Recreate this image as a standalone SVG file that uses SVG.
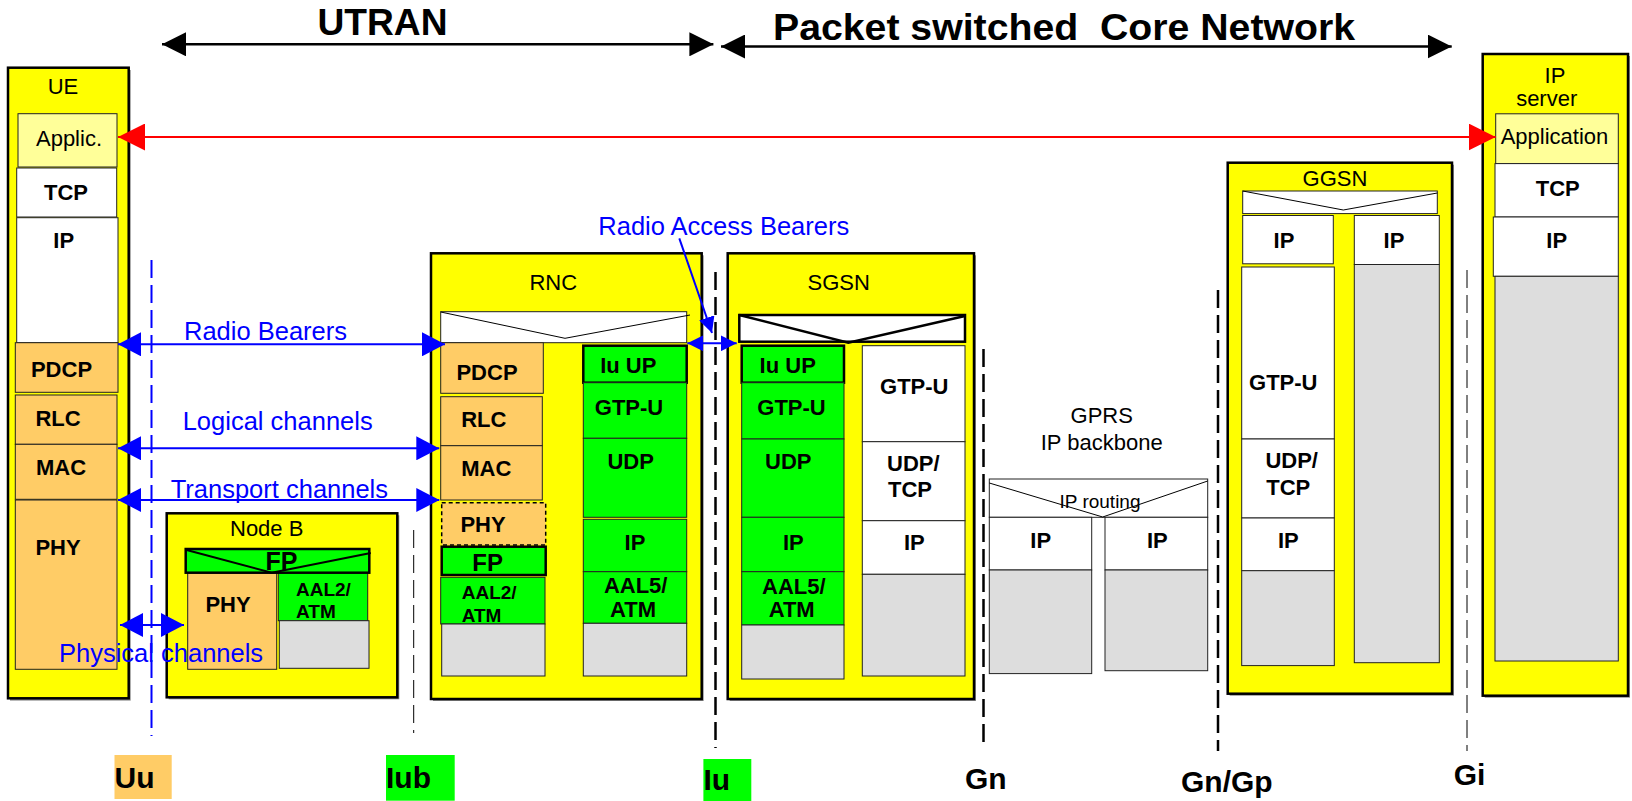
<svg xmlns="http://www.w3.org/2000/svg" width="1632" height="801" viewBox="0 0 1632 801">
<style>
  text { font-family: "Liberation Sans", Arial, sans-serif; fill: #000; }
  .node { fill: #FFFF00; stroke: #000; stroke-width: 2.5; }
  .shadow { fill: #8c8c8c; }
  .org { fill: #FFCC66; stroke: #222; stroke-width: 1; }
  .grn { fill: #00FF00; stroke: #222; stroke-width: 1; }
  .grnb { fill: #00FF00; stroke: #000; stroke-width: 2.5; }
  .wht { fill: #FFFFFF; stroke: #222; stroke-width: 1; }
  .whtb { fill: #FFFFFF; stroke: #000; stroke-width: 2.5; }
  .gry { fill: #DDDDDD; stroke: #222; stroke-width: 1; }
  .app { fill: #FFFF99; stroke: #222; stroke-width: 1; }
  .t { font-size: 22px; text-anchor: middle; }
  .b { font-size: 22px; font-weight: bold; text-anchor: middle; }
  .fp { font-size: 25px; font-weight: bold; text-anchor: middle; }
  .s { font-size: 19px; font-weight: bold; }
  .blue { font-size: 25.5px; fill: #0000FF; }
  .lbl { font-size: 30px; font-weight: bold; }
  .head { font-size: 36px; font-weight: bold; }
  .vee { fill: none; stroke: #000; stroke-width: 1; }
  .veeb { fill: none; stroke: #000; stroke-width: 2.5; }
  .dash { fill: none; stroke: #000; stroke-dasharray: 18 7; }
  .bl { stroke: #0000FF; stroke-width: 2; fill: none; }
</style>
<defs>
  <marker id="hBlue" markerUnits="userSpaceOnUse" viewBox="0 0 23 24" markerWidth="23" markerHeight="24" refX="23" refY="12" orient="auto-start-reverse">
    <path d="M0,0 L23,12 L0,24 z" fill="#0000FF"/>
  </marker>
  <marker id="hBlueS" markerUnits="userSpaceOnUse" viewBox="0 0 16 16" markerWidth="16" markerHeight="16" refX="16" refY="8" orient="auto-start-reverse">
    <path d="M0,0 L16,8 L0,16 z" fill="#0000FF"/>
  </marker>
  <marker id="hRed" markerUnits="userSpaceOnUse" viewBox="0 0 27 27" markerWidth="27" markerHeight="27" refX="27" refY="13.5" orient="auto-start-reverse">
    <path d="M0,0 L27,13.5 L0,27 z" fill="#FF0000"/>
  </marker>
  <marker id="hBlack" markerUnits="userSpaceOnUse" viewBox="0 0 24 24" markerWidth="24" markerHeight="24" refX="24" refY="12" orient="auto-start-reverse">
    <path d="M0,0 L24,12 L0,24 z" fill="#000"/>
  </marker>
</defs>

<rect width="1632" height="801" fill="#FFFFFF"/>

<!-- domain headings -->
<g id="headings">
  <text class="head" x="317.5" y="35" textLength="130" lengthAdjust="spacingAndGlyphs">UTRAN</text>
  <text class="head" x="773" y="40" textLength="582" lengthAdjust="spacingAndGlyphs" xml:space="preserve">Packet switched  Core Network</text>
</g>

<!-- UE -->
<g id="ue">
  <rect class="shadow" x="10" y="70" width="120.7" height="630.6"/>
  <rect class="node" x="8" y="67.7" width="120.7" height="630.6"/>
  <text class="t" x="63" y="94">UE</text>
  <rect class="app" x="18" y="113.7" width="99" height="53.3"/>
  <text class="t" x="69" y="146">Applic.</text>
  <rect class="wht" x="16.7" y="168" width="100" height="49"/>
  <text class="b" x="66" y="200">TCP</text>
  <rect class="wht" x="16.7" y="217.7" width="101.3" height="125"/>
  <text class="b" x="63.7" y="248">IP</text>
  <rect class="org" x="15.3" y="342.7" width="102.7" height="49.6"/>
  <text class="b" x="61.5" y="377.3">PDCP</text>
  <rect class="org" x="15.3" y="395" width="101.7" height="49.3"/>
  <text class="b" x="58" y="426">RLC</text>
  <rect class="org" x="15.3" y="444.3" width="101.7" height="55"/>
  <text class="b" x="61" y="475">MAC</text>
  <rect class="org" x="15.3" y="500" width="101.7" height="169.3"/>
  <text class="b" x="58" y="555">PHY</text>
</g>

<!-- Node B -->
<g id="node-b">
  <rect class="shadow" x="168.7" y="515.3" width="230.6" height="184"/>
  <rect class="node" x="166.7" y="513.3" width="230.6" height="184"/>
  <text class="t" x="266.7" y="535.7">Node B</text>
  <rect class="org" x="187.7" y="572.7" width="89" height="96.6"/>
  <text class="b" x="228" y="611.7">PHY</text>
  <rect class="grn" x="278.3" y="572.7" width="89.4" height="48"/>
  <text class="s" x="296" y="596">AAL2/</text>
  <text class="s" x="296" y="618.3">ATM</text>
  <rect class="gry" x="279.3" y="620.7" width="89.7" height="47.6"/>
  <rect class="grnb" x="185.7" y="549" width="183.6" height="23.7"/>
  <polyline class="veeb" style="stroke-width:2" points="185.7,549.7 271.7,572.7 370.7,553"/>
  <text class="fp" x="281.5" y="570">FP</text>
</g>

<!-- RNC -->
<g id="rnc">
  <rect class="shadow" x="433" y="255.3" width="270.7" height="445.7"/>
  <rect class="node" x="431" y="253.3" width="270.7" height="445.7"/>
  <text class="t" x="553.3" y="290">RNC</text>
  <rect class="wht" x="440.7" y="311.7" width="246" height="31"/>
  <polyline class="vee" points="440.7,312 565,338.3 690,315"/>
  <rect class="org" x="440.7" y="342.7" width="102.6" height="50.6"/>
  <text class="b" x="487" y="380">PDCP</text>
  <rect class="org" x="440.7" y="396.7" width="101.6" height="49"/>
  <text class="b" x="483.8" y="427.3">RLC</text>
  <rect class="org" x="440.7" y="445.7" width="101.6" height="54.3"/>
  <text class="b" x="486.3" y="476">MAC</text>
  <rect class="org" x="441.7" y="502.7" width="104" height="42.3" style="stroke:#000;stroke-width:1.5;stroke-dasharray:4 3"/>
  <text class="b" x="483" y="531.7">PHY</text>
  <rect class="grnb" x="441.7" y="546.7" width="104" height="28.3"/>
  <text class="fp" style="font-size:24px" x="487.7" y="571">FP</text>
  <rect class="grn" x="440.7" y="577.3" width="104.3" height="46.7"/>
  <text class="s" x="461.7" y="599">AAL2/</text>
  <text class="s" x="461.7" y="621.7">ATM</text>
  <rect class="gry" x="441.7" y="624" width="103.3" height="52"/>
  <rect class="grnb" x="583.3" y="345.7" width="103.4" height="37"/>
  <text class="b" x="628.3" y="373.3">Iu UP</text>
  <rect class="grn" x="583.3" y="382.7" width="103.4" height="55.6"/>
  <text class="b" x="629" y="415">GTP-U</text>
  <rect class="grn" x="583.3" y="438.3" width="103.4" height="79"/>
  <text class="b" x="630.7" y="469.3">UDP</text>
  <rect class="grn" x="583.3" y="519.3" width="103.4" height="52.4"/>
  <text class="b" x="635" y="550">IP</text>
  <rect class="grn" x="583.3" y="571.7" width="103.4" height="51.6"/>
  <text class="b" x="635.7" y="593.3">AAL5/</text>
  <text class="b" x="633" y="617.3">ATM</text>
  <rect class="gry" x="583.3" y="623.3" width="103.4" height="52.7"/>
</g>

<!-- SGSN -->
<g id="sgsn">
  <rect class="shadow" x="729.7" y="255.3" width="246.3" height="445.7"/>
  <rect class="node" x="727.7" y="253.3" width="246.3" height="445.7"/>
  <text class="t" x="838.7" y="290">SGSN</text>
  <rect class="whtb" x="739.3" y="315" width="225.7" height="26.7"/>
  <polyline class="veeb" points="739.3,315 848.3,342.7 965,316"/>
  <rect class="grnb" x="741.7" y="345.7" width="102.3" height="37"/>
  <text class="b" x="787.7" y="373">Iu UP</text>
  <rect class="grn" x="741.7" y="382.7" width="102.3" height="56.3"/>
  <text class="b" x="791.5" y="415">GTP-U</text>
  <rect class="grn" x="741.7" y="439" width="102.3" height="78.3"/>
  <text class="b" x="788.3" y="469.3">UDP</text>
  <rect class="grn" x="741.7" y="517.3" width="102.3" height="54.4"/>
  <text class="b" x="793.3" y="550">IP</text>
  <rect class="grn" x="741.7" y="571.7" width="102.3" height="53.3"/>
  <text class="b" x="793.8" y="594">AAL5/</text>
  <text class="b" x="791.7" y="617.3">ATM</text>
  <rect class="gry" x="741.7" y="625" width="102.3" height="54"/>
  <rect class="wht" x="862.3" y="345.7" width="102.7" height="96"/>
  <text class="b" x="914.3" y="394">GTP-U</text>
  <rect class="wht" x="862.3" y="441.7" width="102.7" height="79"/>
  <text class="b" x="913.3" y="470.7">UDP/</text>
  <text class="b" x="910" y="496.7">TCP</text>
  <rect class="wht" x="862.3" y="520.7" width="102.7" height="53.6"/>
  <text class="b" x="914.3" y="550">IP</text>
  <rect class="gry" x="862.3" y="574.3" width="102.7" height="101.7"/>
</g>

<!-- GPRS IP backbone -->
<g id="gprs-backbone">
  <text class="t" x="1101.7" y="422.7">GPRS</text>
  <text class="t" x="1101.7" y="450">IP backbone</text>
  <rect class="wht" x="989.3" y="479" width="218.4" height="38.3"/>
  <polyline class="vee" points="989.3,483 1102.7,517 1207.7,481"/>
  <text class="t" style="font-size:19px" x="1100" y="508">IP routing</text>
  <rect class="wht" x="989.3" y="517.3" width="102.4" height="52.7"/>
  <text class="b" x="1040.7" y="548.2">IP</text>
  <rect class="gry" x="989.3" y="570" width="102.4" height="103.6"/>
  <rect class="wht" x="1105" y="517.3" width="102.7" height="52.7"/>
  <text class="b" x="1157.3" y="548.2">IP</text>
  <rect class="gry" x="1105" y="570" width="102.7" height="100.7"/>
</g>

<!-- GGSN -->
<g id="ggsn">
  <rect class="shadow" x="1229.7" y="164.7" width="224.3" height="531"/>
  <rect class="node" x="1227.7" y="162.7" width="224.3" height="531"/>
  <text class="t" x="1335" y="186.4">GGSN</text>
  <rect class="wht" x="1242.7" y="191" width="194.6" height="22.6"/>
  <polyline class="vee" points="1242.7,191 1343.3,210 1437.3,193"/>
  <rect class="wht" x="1242.7" y="215.5" width="90.6" height="48.3"/>
  <text class="b" x="1284" y="247.5">IP</text>
  <rect class="wht" x="1354.3" y="215.5" width="85" height="49"/>
  <text class="b" x="1394" y="247.5">IP</text>
  <rect class="gry" x="1354.3" y="264.5" width="85" height="398.2"/>
  <rect class="wht" x="1241.7" y="267" width="92.6" height="172"/>
  <text class="b" x="1283.3" y="390">GTP-U</text>
  <rect class="wht" x="1241.7" y="439" width="92.6" height="79"/>
  <text class="b" x="1291.7" y="468">UDP/</text>
  <text class="b" x="1288.3" y="494.7">TCP</text>
  <rect class="wht" x="1241.7" y="518" width="92.6" height="52.7"/>
  <text class="b" x="1288.3" y="548.2">IP</text>
  <rect class="gry" x="1241.7" y="570.7" width="92.6" height="94.9"/>
</g>

<!-- IP server -->
<g id="ip-server">
  <rect class="shadow" x="1484.7" y="56" width="145.3" height="641.7"/>
  <rect class="node" x="1482.7" y="54" width="145.3" height="641.7"/>
  <text class="t" x="1555" y="83.4">IP</text>
  <text class="t" x="1546.7" y="106">server</text>
  <rect class="app" x="1495.7" y="113.8" width="122.6" height="49.8"/>
  <text class="t" x="1554.5" y="144">Application</text>
  <rect class="wht" x="1495" y="163.6" width="123.3" height="53.4"/>
  <text class="b" x="1557.7" y="196">TCP</text>
  <rect class="wht" x="1493.3" y="217" width="125" height="59.3"/>
  <text class="b" x="1556.7" y="248">IP</text>
  <rect class="gry" x="1495" y="276.3" width="123.3" height="384.7"/>
</g>

<!-- connectors: reference points, bearers and spans -->
<g id="connectors">
  <line x1="151.5" y1="260" x2="151.5" y2="736" stroke="#0000FF" stroke-width="2" stroke-dasharray="18 7"/>
  <line class="dash" x1="413.7" y1="530" x2="413.7" y2="733" stroke-width="1"/>
  <line class="dash" x1="715.5" y1="272" x2="715.5" y2="748" stroke-width="2.5"/>
  <line class="dash" x1="983.5" y1="349" x2="983.5" y2="746" stroke-width="2.5"/>
  <line class="dash" x1="1218" y1="290" x2="1218" y2="751" stroke-width="2.5"/>
  <line class="dash" x1="1467" y1="270" x2="1467" y2="751" stroke-width="1"/>

  <line x1="162" y1="44.3" x2="713.4" y2="44.3" stroke="#000" stroke-width="2.5" marker-start="url(#hBlack)" marker-end="url(#hBlack)"/>
  <line x1="721" y1="46.5" x2="1451.7" y2="46.5" stroke="#000" stroke-width="2.5" marker-start="url(#hBlack)" marker-end="url(#hBlack)"/>

  <line x1="118" y1="137" x2="1495.7" y2="137" stroke="#FF0000" stroke-width="2" marker-start="url(#hRed)" marker-end="url(#hRed)"/>

  <line class="bl" x1="118" y1="344.3" x2="445" y2="344.3" marker-start="url(#hBlue)" marker-end="url(#hBlue)"/>
  <line class="bl" x1="118" y1="448.3" x2="439.3" y2="448.3" marker-start="url(#hBlue)" marker-end="url(#hBlue)"/>
  <line class="bl" x1="118" y1="500" x2="439.3" y2="500" marker-start="url(#hBlue)" marker-end="url(#hBlue)"/>
  <line class="bl" x1="120" y1="625" x2="184" y2="625" marker-start="url(#hBlue)" marker-end="url(#hBlue)"/>
  <line class="bl" x1="687.3" y1="343.3" x2="736.7" y2="343.3" marker-start="url(#hBlueS)" marker-end="url(#hBlueS)"/>
  <line class="bl" x1="679.3" y1="238.3" x2="712" y2="333" marker-end="url(#hBlueS)"/>

  <text class="blue" x="184" y="340">Radio Bearers</text>
  <text class="blue" x="182.7" y="430">Logical channels</text>
  <text class="blue" x="170.7" y="497.7">Transport channels</text>
  <text class="blue" x="59" y="661.7">Physical channels</text>
  <text class="blue" x="598.3" y="235">Radio Access Bearers</text>
</g>

<!-- interface labels -->
<g id="interfaces">
  <rect x="114.5" y="755" width="57.2" height="44" fill="#FFCC66"/>
  <text class="lbl" x="114.5" y="788.3">Uu</text>
  <rect x="386" y="755" width="68.7" height="45.7" fill="#00FF00"/>
  <text class="lbl" x="386" y="788.3">Iub</text>
  <rect x="703.4" y="759" width="47.9" height="42" fill="#00FF00"/>
  <text class="lbl" x="703.4" y="790">Iu</text>
  <text class="lbl" x="965" y="789.3">Gn</text>
  <text class="lbl" x="1181" y="791.7">Gn/Gp</text>
  <text class="lbl" x="1453.7" y="785">Gi</text>
</g>
</svg>
